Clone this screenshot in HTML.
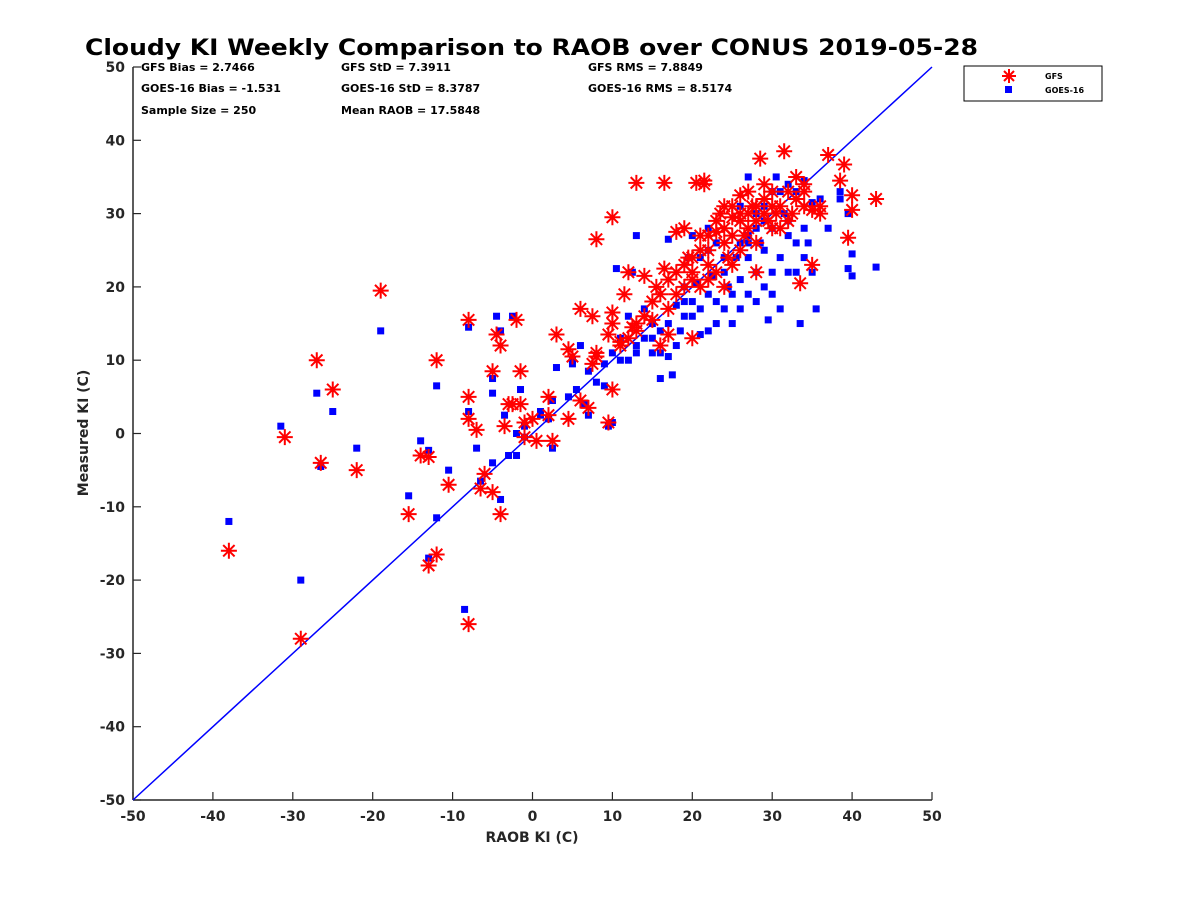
<!DOCTYPE html>
<html><head><meta charset="utf-8"><style>
body{margin:0;background:#fff;}
svg text{font-family:"DejaVu Sans","Liberation Sans",sans-serif;}
</style></head><body>
<svg id="chart" width="1200" height="900">
<rect width="1200" height="900" fill="#fff"/>
<text x="85" y="55" textLength="893" lengthAdjust="spacingAndGlyphs" font-size="22" font-weight="bold">Cloudy KI Weekly Comparison to RAOB over CONUS 2019-05-28</text>
<g font-size="11" font-weight="bold">
<text x="141" y="71">GFS Bias = 2.7466</text>
<text x="141" y="92">GOES-16 Bias = -1.531</text>
<text x="141" y="114">Sample Size = 250</text>
<text x="341" y="71">GFS StD = 7.3911</text>
<text x="341" y="92">GOES-16 StD = 8.3787</text>
<text x="341" y="114">Mean RAOB = 17.5848</text>
<text x="588" y="71">GFS RMS = 7.8849</text>
<text x="588" y="92">GOES-16 RMS = 8.5174</text>
</g>
<g id="axes"></g>
<g id="marks"></g>
<g>
<rect x="964" y="66" width="138" height="35" fill="#fff" stroke="#000" stroke-width="1"/>
<g stroke="#f00" stroke-width="2">
<line x1="1002" y1="76" x2="1016" y2="76"/><line x1="1009" y1="69" x2="1009" y2="83"/><line x1="1004" y1="71" x2="1014" y2="81"/><line x1="1004" y1="81" x2="1014" y2="71"/></g>
<rect x="1005" y="86" width="7" height="7" fill="#00f"/>
<text x="1045" y="79" font-size="8" font-weight="bold">GFS</text>
<text x="1045" y="93" font-size="8" font-weight="bold">GOES-16</text>
</g>
</svg>
<script>
const xTicks=[-50,-40,-30,-20,-10,0,10,20,30,40,50];
const yTicks=[-50,-40,-30,-20,-10,0,10,20,30,40,50];
const gfsX=[-38,-31,-29,-27,-26.5,-25,-22,-19,-15.5,-14,-13,-13,-12,-12,-10.5,-8,-8,-8,-8,-7,-6.5,-6,-5,-5,-4.5,-4,-4,-3.5,-3,-2.5,-2,-1.5,-1.5,-1,-1,0,0.5,2,2,2.5,3,4.5,4.5,5,6,6,7,7.5,7.5,8,8,9.5,9.5,10,10,10,10,11,11.5,12,12.5,13,13,14,15,15.5,16,16,16.5,16.5,17,17,18,18,19,19,19.5,20,20,20.5,21,21.5,21.5,22,22,23,23,23.5,24,24.5,25,25,26,26,26.5,27,27,27.5,28,28,28.5,29,29,29.5,30,30.5,31,31.5,32,32.5,33,33.5,34,34,35,35,36,37,38.5,39,39.5,40,40,43,26,25,24,22,21,23,20,30,31,28,27,26,25,18,14,12,13,11,8,15,17,19,21,22,24,29,32,33,34,36,20,24,28,30];
const gfsY=[-16,-0.5,-28,10,-4,6,-5,19.5,-11,-3,-18,-3.2,-16.5,10,-7,-26,15.5,5,2,0.5,-7.5,-5.5,-8,8.5,13.5,12,-11,1,4,4,15.5,8.5,4,1.5,-0.5,2,-1,5,2.5,-1,13.5,2,11.5,10.5,17,4.5,3.5,9.5,16,10.5,26.5,13.5,1.5,6,16.5,15,29.5,12.5,19,22,14.5,34.2,15,21.5,15.5,20,12,19,34.2,22.5,13.5,17,22,27.5,28,20,24,13,22,34.2,27,34.5,34,23,25,29,27.5,30,28,24,31,29.5,32.5,29,27,30,33,31,26,22,37.5,30,32,29,31,30,28,38.5,33,30,35,20.5,34,31,30.5,23,30,38,34.5,36.7,26.7,30.5,32.5,32,25,23,20,21,20,22,24,33,31,29,28,30,27,19,16,13,14,12,11,18,21,23,25,27,26,34,29,32,33,31,21,31,31,28];
const goesX=[-38,-31.5,-29,-27,-26.5,-25,-22,-19,-15.5,-14,-13,-13,-12,-12,-10.5,-8.5,-8,-8,-7,-6.5,-5,-5,-5,-4.5,-4,-4,-3.5,-3,-2.5,-2,-2,-1.5,-1,-1,1,1,2,2.5,2.5,3,4.5,5,5,5.5,6,6.5,7,7,8,9,9,9.5,10,10,10.5,11,12,12,12.5,13,13,14,14,15,15,16,16,17,17,17,17.5,18,18,18.5,19,19,19.5,20,20,20.5,21,21,21,22,22,22,22.5,23,23,23,24,24,24.5,25,25,25.5,26,26,26,27,27,27,27,28,28,28,28.5,29,29,29.5,30,30,30,30,30.5,31,31,31.5,32,32,32,33,33,33,33.5,34,34,34,34.5,35,35,35.5,36,37,38.5,38.5,39.5,39.5,40,40,43,22,19,16,15,13,11,20,24,26,28,29,31,32,29,27];
const goesY=[-12,1,-20,5.5,-4.5,3,-2,14,-8.5,-1,-17,-2.3,-11.5,6.5,-5,-24,14.5,3,-2,-6.5,-4,5.5,7.5,16,-9,14,2.5,-3,16,-3,0,6,1,-0.5,2.5,3,2,-2,4.5,9,5,9.5,10,6,12,4,2.5,8.5,7,9.5,6.5,1,1.5,11,22.5,13,16,10,22,27,11,13,17,11,15,7.5,11,26.5,15,10.5,8,12,17.5,14,16,20,24,27,18,20.5,13.5,24,17,28,19,14,21.5,26,18,15,22,17,20,19,15,24,31,21,17,27,24,19,35,30,22,18,26,25,20,15.5,33,28,22,19,35,24,17,30,29,22,27,33,26,22,15,34.5,28,24,26,31.5,22,17,32,28,33,32,30,22.5,21.5,24.5,22.7,25,18,14,13,12,10,16,24,26,28,31,33,34,29,26];
const X0=133,X1=932,Y0=800,Y1=67;
const sx=v=>X0+(v+50)/100*(X1-X0);
const sy=v=>Y0-(v+50)/100*(Y0-Y1);
const NS='http://www.w3.org/2000/svg';
function mk(tag,attrs,parent){const e=document.createElementNS(NS,tag);for(const k in attrs)e.setAttribute(k,attrs[k]);parent.appendChild(e);return e;}
const ax=document.getElementById('axes');
const xl=mk('line',{x1:X0,y1:Y0,x2:X1,y2:Y0,stroke:'#262626','stroke-width':1.5},ax);


const yl=mk('line',{x1:X0,y1:Y0,x2:X0,y2:Y1,stroke:'#262626','stroke-width':1.5},ax);


xTicks.forEach(t=>{
  mk('line',{x1:sx(t),y1:Y0,x2:sx(t),y2:Y0-8,stroke:'#262626','stroke-width':1.2},ax);
  const tx=mk('text',{x:sx(t),y:Y0+21,'text-anchor':'middle','font-size':14,'font-weight':'bold',fill:'#262626'},ax);
  tx.textContent=t;
  
  
});
yTicks.forEach(t=>{
  mk('line',{x1:X0,y1:sy(t),x2:X0+8,y2:sy(t),stroke:'#262626','stroke-width':1.2},ax);
  const tx=mk('text',{x:X0-8,y:sy(t)+5,'text-anchor':'end','font-size':14,'font-weight':'bold',fill:'#262626'},ax);
  tx.textContent=t;
  
  
});
const xt=mk('text',{x:532,y:842,'text-anchor':'middle','font-size':14,'font-weight':'bold',fill:'#262626'},ax);
xt.textContent='RAOB KI (C)';


const yt=mk('text',{x:0,y:0,'text-anchor':'middle','font-size':14,'font-weight':'bold',fill:'#262626',transform:'translate(88,433) rotate(-90)'},ax);
yt.textContent='Measured KI (C)';


const mg=document.getElementById('marks');
const ol=mk('line',{x1:sx(-50),y1:sy(-50),x2:sx(50),y2:sy(50),stroke:'#00f','stroke-width':1.5},mg);


goesX.forEach((v,i)=>{
  const r=mk('rect',{x:sx(v)-3.5,y:sy(goesY[i])-3.5,width:7,height:7,fill:'#00f'},mg);
  
  
});
gfsX.forEach((v,i)=>{
  const cx=sx(v),cy=sy(gfsY[i]);
  const g=mk('path',{d:`M${cx-8} ${cy}H${cx+8}M${cx} ${cy-8}V${cy+8}M${cx-5.7} ${cy-5.7}L${cx+5.7} ${cy+5.7}M${cx-5.7} ${cy+5.7}L${cx+5.7} ${cy-5.7}`,stroke:'#f00','stroke-width':2,fill:'none'},mg);
  
  
});
</script>
</body></html>
